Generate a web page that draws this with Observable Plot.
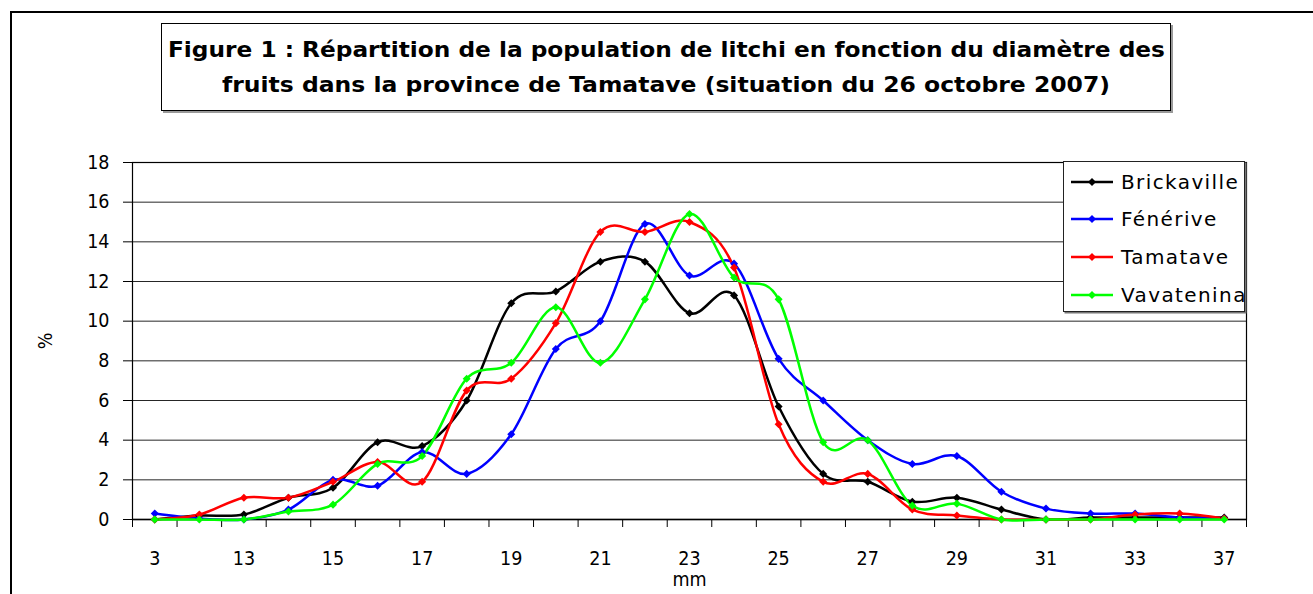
<!DOCTYPE html>
<html><head><meta charset="utf-8">
<script src="https://cdn.jsdelivr.net/npm/d3@7"></script>
<script src="https://cdn.jsdelivr.net/npm/@observablehq/plot@0.6"></script>
<style>
html,body{margin:0;padding:0;background:#fff;}
#page{position:relative;width:1313px;height:594px;overflow:hidden;font-family:"DejaVu Sans",sans-serif;color:#000;background:#fff;}
#frame{position:absolute;left:10px;top:11px;width:1400px;height:700px;border-left:2px solid #000;border-top:2px solid #000;pointer-events:none;}
#titlebox{position:absolute;left:161px;top:23px;width:1008px;height:86px;border:1.5px solid #000;box-shadow:2px 2px 0 #9a9a9a;background:#fff;}
.tl{position:absolute;left:0;width:100%;text-align:center;font-weight:bold;font-size:22px;line-height:28px;white-space:nowrap;}
.tl span{display:inline-block;transform-origin:center center;}
#chart{position:absolute;left:0;top:130px;}
#legend{position:absolute;left:1063px;top:161px;width:180px;height:149px;border:1.5px solid #222;box-shadow:1.5px 1.5px 0 #777;background:#fff;}
.lrow{position:absolute;left:0;height:30px;display:flex;align-items:center;}
.lrow svg{margin-left:7px;}
.lrow span{margin-left:8px;font-size:20px;letter-spacing:1.4px;white-space:nowrap;}
</style>
</head><body>
<div id="page">
  <div id="chart"></div>
  <div id="titlebox">
    <div class="tl" id="t1" style="top:12px"><span></span></div>
    <div class="tl" id="t2" style="top:47px"><span></span></div>
  </div>
  <div id="legend"></div>
  <div id="frame"></div>
</div>
<script>
// ---- data ----
const titleLines = [
  "Figure 1 : Répartition de la population de litchi en fonction du diamètre des",
  "fruits dans la province de Tamatave (situation du 26 octobre 2007)"
];
const categories = ["3","12","13","14","15","16","17","18","19","20","21","22","23","24","25","26","27","28","29","30","31","32","33","35","37"];
const seriesNames = ["Brickaville","Fénérive","Tamatave","Vavatenina"];
const seriesColors = ["#000000","#0000ff","#ff0000","#00ff00"];
const brickaville = [0, 0.2, 0.25, 1.1, 1.6, 3.9, 3.7, 6.0, 10.9, 11.5, 13.0, 13.0, 10.4, 11.3, 5.7, 2.3, 1.9, 0.9, 1.1, 0.5, 0, 0.1, 0.1, 0.1, 0.1];
const fenerive    = [0.3, 0.05, 0, 0.5, 2.0, 1.7, 3.4, 2.3, 4.3, 8.6, 10.0, 14.9, 12.3, 12.9, 8.1, 6.0, 4.0, 2.8, 3.2, 1.4, 0.55, 0.3, 0.3, 0.1, 0.05];
const tamatave    = [0, 0.25, 1.1, 1.1, 1.9, 2.9, 1.9, 6.5, 7.1, 9.9, 14.5, 14.5, 15.0, 12.7, 4.8, 1.9, 2.3, 0.5, 0.2, 0, 0, 0, 0.25, 0.3, 0.05];
const vavatenina  = [0, 0, 0, 0.4, 0.75, 2.8, 3.2, 7.1, 7.9, 10.7, 7.9, 11.1, 15.4, 12.2, 11.1, 3.9, 4.0, 0.7, 0.8, 0, 0, 0, 0, 0, 0];
const yTicks = [0, 2, 4, 6, 8, 10, 12, 14, 16, 18];
const xLabel = "mm";
const yLabel = "%";

// ---- build ----
const allSeries = [brickaville, fenerive, tamatave, vavatenina];
const rows = [];
allSeries.forEach((vals, s) => vals.forEach((v, i) => rows.push({series: seriesNames[s], i, v})));
const idx = d3.range(categories.length);
const bounds = d3.range(categories.length + 1).map(k => k - 0.5);

const diamond = {
  draw(ctx, size) {
    const h = Math.sqrt(size / Math.PI) * 1.15;
    ctx.moveTo(0, -h); ctx.lineTo(h, 0); ctx.lineTo(0, h); ctx.lineTo(-h, 0); ctx.closePath();
  }
};

const axisFont = '"DejaVu Sans Condensed", "Liberation Sans", sans-serif';

const chart = Plot.plot({
  width: 1313, height: 464,
  marginTop: 32, marginBottom: 75, marginLeft: 132, marginRight: 67,
  style: {fontFamily: axisFont, fontSize: "19.5px", background: "transparent", color: "#000", overflow: "visible"},
  x: {type: "linear", domain: [-0.5, categories.length - 0.5]},
  y: {domain: [0, 18]},
  color: {domain: seriesNames, range: seriesColors},
  marks: [
    Plot.gridY(yTicks, {stroke: "#000", strokeOpacity: 0.85, strokeWidth: 1}),
    Plot.frame({stroke: "#000", strokeWidth: 1.2}),
    Plot.axisY(yTicks, {tickSize: 9, tickPadding: 14, fontSize: 19.5, label: yLabel, labelAnchor: "center", labelOffset: 94, labelArrow: "none"}),
    Plot.axisX(bounds, {tickSize: 8, tickFormat: () => "", label: null}),
    Plot.axisX(idx, {tickSize: 0, tickPadding: 32, fontSize: 19.5, tickFormat: i => i % 2 === 0 ? categories[i] : "", label: xLabel, labelAnchor: "center", labelOffset: 66, labelArrow: "none"}),
    Plot.ruleY([0], {strokeWidth: 1.5}),
    Plot.line(rows, {x: "i", y: "v", z: "series", stroke: "series", strokeWidth: 2.5, curve: "cardinal", tension: 0}),
    Plot.dot(rows, {x: "i", y: "v", fill: "series", symbol: diamond, r: 3.5})
  ]
});
document.getElementById("chart").appendChild(chart);

// title
const tTargets = [997, 888];
["t1", "t2"].forEach((id, k) => {
  const sp = document.querySelector("#" + id + " span");
  sp.textContent = titleLines[k];
  const w = sp.getBoundingClientRect().width;
  sp.style.transform = `scaleX(${tTargets[k] / w})`;
});

// legend
const leg = document.getElementById("legend");
seriesNames.forEach((name, k) => {
  const row = document.createElement("div");
  row.className = "lrow";
  row.style.top = (4.5 + k * 37.7) + "px";
  row.innerHTML = `<svg width="42" height="12" viewBox="0 0 42 12"><line x1="0" y1="6" x2="42" y2="6" stroke="${seriesColors[k]}" stroke-width="2.5"/><path d="M21,2 L25,6 L21,10 L17,6 Z" fill="${seriesColors[k]}"/></svg><span>${name}</span>`;
  leg.appendChild(row);
});
</script>
</body></html>
